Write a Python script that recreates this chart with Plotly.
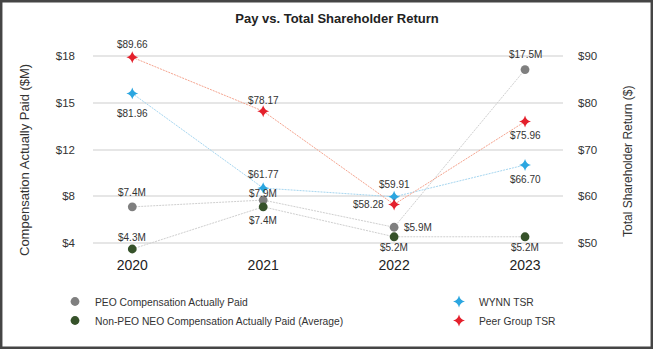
import plotly.graph_objects as go

# ---- data ----
years = ["2020", "2021", "2022", "2023"]
peo_cap = [7.4, 7.9, 5.9, 17.5]            # $M
non_peo_cap = [4.3, 7.4, 5.2, 5.2]         # $M, average
wynn_tsr = [81.96, 61.77, 59.91, 66.70]    # $
peer_tsr = [89.66, 78.17, 58.28, 75.96]    # $

left_tick_vals = [4.72, 8.17, 11.62, 15.07, 18.52]
left_tick_text = ["$4", "$8", "$12", "$15", "$18"]
right_tick_vals = [50, 60, 70, 80, 90]
right_tick_text = ["$50", "$60", "$70", "$80", "$90"]

# ---- styling ----
W, H = 653, 349
ML, MR, MT, MB = 93, 90, 50, 99
PW, PH = W - ML - MR, H - MT - MB
FONT = "Liberation Sans, Arial, sans-serif"
TXT = "#333333"

GRAY = "#7f7f7f"
GREEN = "#36522a"
BLUE = "#2ba6e0"
RED = "#e4202c"
STAR = 8.5
DOT = 8.8

xs = list(range(len(years)))

# value-label placement: (xshift, yshift, xanchor) per point
peo_lbl = [(0, 14, "center"), (0, 7, "center"), (8, 0, "left"), (0, 15, "center")]
non_peo_lbl = [(0, 12, "center"), (0, -14, "center"), (0, -11, "center"), (0, -11, "center")]
wynn_lbl = [(0, -20, "center"), (0, 14, "center"), (0, 12, "center"), (0, -15, "center")]
peer_lbl = [(0, 13, "center"), (0, 11, "center"), (-8, 0, "right"), (0, -14, "center")]

fig = go.Figure()

def series(y, axis, line_color, mark_color, symbol, size, fmt, placements):
    fig.add_trace(go.Scatter(
        x=xs, y=y, yaxis=axis, mode="lines+markers",
        line=dict(color=line_color, width=1, dash="2px,1px"),
        marker=dict(color=mark_color, symbol=symbol, size=size, line=dict(width=0)),
        showlegend=False, cliponaxis=False, hoverinfo="skip",
    ))
    for xi, v, (dx, dy, anchor) in zip(xs, y, placements):
        fig.add_annotation(
            x=xi, y=v, xref="x", yref=axis, text=fmt.format(v),
            showarrow=False, xshift=dx, yshift=dy,
            xanchor=anchor, yanchor="middle",
            font=dict(family=FONT, size=10, color=TXT),
        )

series(peo_cap, "y", "#cfcfcf", GRAY, "circle", DOT, "${:.1f}M", peo_lbl)
series(non_peo_cap, "y", "#cfcfcf", GREEN, "circle", DOT, "${:.1f}M", non_peo_lbl)
series(wynn_tsr, "y2", "#a6d6f0", BLUE, "star-diamond", STAR, "${:.2f}", wynn_lbl)
series(peer_tsr, "y2", "#f5a48f", RED, "star-diamond", STAR, "${:.2f}", peer_lbl)

# legend entries (marker only)
def legend_entry(name, color, symbol, size, legend):
    fig.add_trace(go.Scatter(
        x=[None], y=[None], mode="markers", name=name,
        marker=dict(color=color, symbol=symbol, size=size, line=dict(width=0)),
        legend=legend,
    ))

legend_entry("PEO Compensation Actually Paid", GRAY, "circle", DOT, "legend")
legend_entry("Non-PEO NEO Compensation Actually Paid (Average)", GREEN, "circle", DOT, "legend")
legend_entry("WYNN TSR", BLUE, "star-diamond", STAR, "legend2")
legend_entry("Peer Group TSR", RED, "star-diamond", STAR, "legend2")

def px_to_paper_x(px):
    return (px - ML) / PW

def px_to_paper_y(py):
    return (H - MB - py) / PH

legend_style = dict(
    orientation="v", yanchor="top", xanchor="left",
    font=dict(family=FONT, size=10.3, color=TXT),
    bgcolor="rgba(0,0,0,0)", borderwidth=0, itemclick=False, itemdoubleclick=False,
    tracegroupgap=0,
)

step = left_tick_vals[1] - left_tick_vals[0]
px_per_unit = 46.9 / step
left_range = [left_tick_vals[0] - 6.7 / px_per_unit, left_tick_vals[-1] + 5.7 / px_per_unit]

fig.update_layout(
    width=W, height=H,
    margin=dict(l=ML, r=MR, t=MT, b=MB, pad=0),
    paper_bgcolor="white", plot_bgcolor="white",
    font=dict(family=FONT, color=TXT),
    title=dict(
        text="<b>Pay vs. Total Shareholder Return</b>",
        x=337 / W, xanchor="center", y=1 - 18.5 / H, yanchor="middle",
        font=dict(family=FONT, size=13, color="#222222"),
    ),
    xaxis=dict(
        range=[-0.3, 3.29], tickvals=xs, ticktext=years,
        showgrid=False, zeroline=False, showline=False,
        tickfont=dict(family=FONT, size=14, color="#222222"),
        ticks="", fixedrange=True, ticklabelstandoff=5,
    ),
    yaxis=dict(
        range=left_range, tickvals=left_tick_vals, ticktext=left_tick_text,
        showgrid=True, gridcolor="#e6e6e6", gridwidth=2,
        zeroline=False, showline=False, ticks="",
        tickfont=dict(family=FONT, size=11.5, color=TXT),
        ticklabelstandoff=17,
    ),
    yaxis2=dict(
        range=[48.571, 91.215], tickvals=right_tick_vals, ticktext=right_tick_text,
        overlaying="y", side="right", showgrid=False,
        zeroline=False, showline=False, ticks="",
        tickfont=dict(family=FONT, size=11.5, color=TXT),
        ticklabelstandoff=14,
    ),
    legend=dict(x=px_to_paper_x(55), y=px_to_paper_y(287), **legend_style),
    legend2=dict(x=px_to_paper_x(439), y=px_to_paper_y(287), **legend_style),
)

# axis titles
fig.add_annotation(
    text="Compensation Actually Paid ($M)", textangle=-90,
    xref="paper", yref="paper", x=px_to_paper_x(24), y=px_to_paper_y(160),
    xanchor="center", yanchor="middle", showarrow=False,
    font=dict(family=FONT, size=13, color=TXT),
)
fig.add_annotation(
    text="Total Shareholder Return ($)", textangle=-90,
    xref="paper", yref="paper", x=px_to_paper_x(628), y=px_to_paper_y(162),
    xanchor="center", yanchor="middle", showarrow=False,
    font=dict(family=FONT, size=12, color=TXT),
)

# frame around the whole figure
inset = 1.2
fig.add_shape(
    type="rect", xref="paper", yref="paper",
    x0=px_to_paper_x(inset), x1=px_to_paper_x(W - inset),
    y0=px_to_paper_y(H - inset), y1=px_to_paper_y(inset),
    line=dict(color="#454545", width=2.5), fillcolor="rgba(0,0,0,0)", layer="above",
)

fig.write_html("out.html")
